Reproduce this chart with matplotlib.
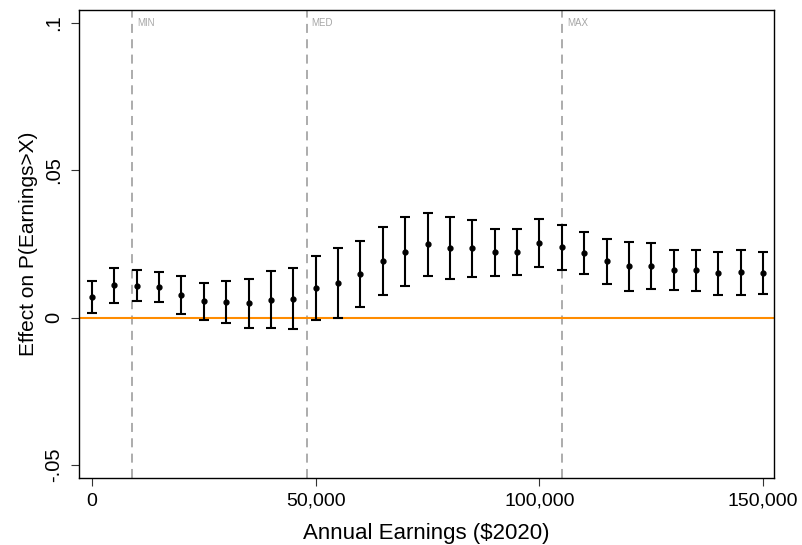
import matplotlib
matplotlib.use("Agg")
import matplotlib.pyplot as plt
import numpy as np

plt.rcParams['font.family'] = ['Liberation Sans', 'DejaVu Sans']

# earnings thresholds and estimated effects with 95% bounds
earnings = list(range(0, 150001, 5000))
effect = [0.0070, 0.0110, 0.0108, 0.0105, 0.0076, 0.0055, 0.0053, 0.0050, 0.0061, 0.0064,
          0.0100, 0.0117, 0.0147, 0.0191, 0.0223, 0.0249, 0.0235, 0.0235, 0.0222, 0.0223,
          0.0253, 0.0240, 0.0219, 0.0191, 0.0174, 0.0175, 0.0162, 0.0160, 0.0151, 0.0153,
          0.0152]
ci_high = [0.0124, 0.0168, 0.0160, 0.0156, 0.0141, 0.0119, 0.0123, 0.0132, 0.0157, 0.0167,
           0.0209, 0.0235, 0.0259, 0.0306, 0.0341, 0.0356, 0.0341, 0.0331, 0.0302, 0.0300,
           0.0334, 0.0315, 0.0291, 0.0267, 0.0258, 0.0254, 0.0230, 0.0230, 0.0223, 0.0228,
           0.0224]
ci_low = [0.0016, 0.0051, 0.0055, 0.0053, 0.0011, -0.0009, -0.0017, -0.0034, -0.0035, -0.0040,
          -0.0009, 0.0000, 0.0036, 0.0076, 0.0106, 0.0142, 0.0130, 0.0139, 0.0140, 0.0146,
          0.0172, 0.0163, 0.0147, 0.0113, 0.0090, 0.0097, 0.0094, 0.0090, 0.0077, 0.0077,
          0.0079]

ref_names = ['MIN', 'MED', 'MAX']
ref_values = [9000, 48000, 105000]

xticks = [0, 50000, 100000, 150000]
xtick_labels = ['0', '50,000', '100,000', '150,000']
yticks = [-0.05, 0, 0.05, 0.1]
ytick_labels = ['-.05', '0', '.05', '.1']

fig = plt.figure(figsize=(8.02, 5.45), dpi=100)
ax = fig.add_axes([0.0985, 0.123, 0.866, 0.8595])

x = np.array(earnings)
y = np.array(effect)
lo = np.array(ci_low)
hi = np.array(ci_high)

# reference earnings levels
for name, val in zip(ref_names, ref_values):
    ax.axvline(val, color='#a6a6a6', lw=1.3, ls=(0, (5, 3.5)), zorder=1)
    ax.text(val + 1100, 0.0998, name, color='#a6a6a6', fontsize=7,
            ha='left', va='center')

ax.axhline(0, color='#ff8c00', lw=1.5, zorder=2)

ax.errorbar(x, y, yerr=[y - lo, hi - y], fmt='o', color='black', ms=3.5,
            elinewidth=1.5, capsize=3.8, capthick=1.5, zorder=3)

ax.set_xlim(-2900, 152300)
ax.set_ylim(-0.0544, 0.1045)

ax.set_xticks(xticks)
ax.set_xticklabels(xtick_labels, fontsize=14)
ax.set_yticks(yticks)
ax.set_yticklabels(ytick_labels, fontsize=14.5, rotation=90, va='center')
ax.tick_params(direction='out', length=5.5, width=0.8, color='#333333')
ax.tick_params(axis='x', pad=5)
ax.tick_params(axis='y', pad=6)

ax.set_xlabel('Annual Earnings ($2020)', fontsize=16, labelpad=9.5)
ax.set_ylabel('Effect on P(Earnings>X)', fontsize=15, labelpad=4)

for sp in ax.spines.values():
    sp.set_linewidth(1.0)
    sp.set_color('black')

fig.savefig('out.png', dpi=100)
